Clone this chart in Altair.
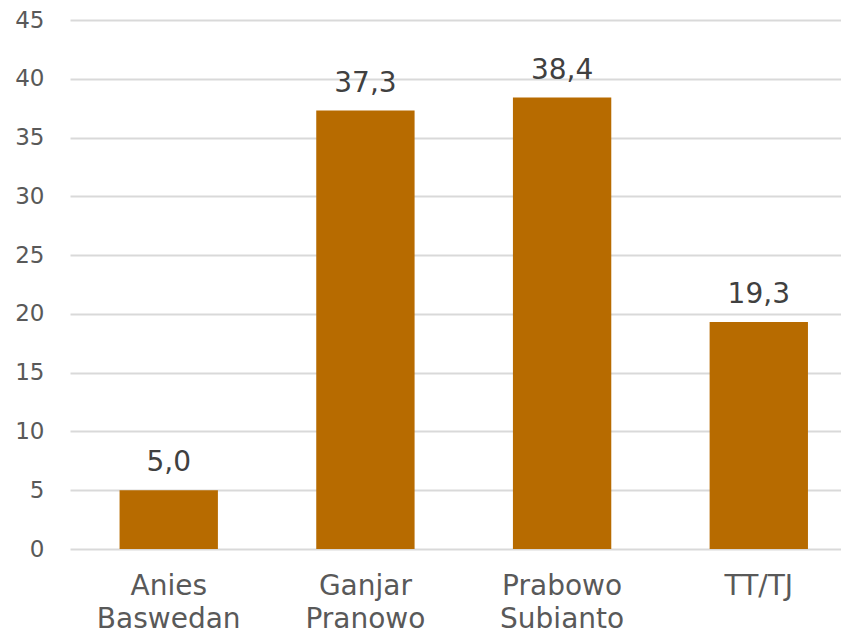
import altair as alt
import pandas as pd

candidates = ["Anies Baswedan", "Ganjar Pranowo", "Prabowo Subianto", "TT/TJ"]
values = [5.0, 37.3, 38.4, 19.3]
y_ticks = [0, 5, 10, 15, 20, 25, 30, 35, 40, 45]

df = pd.DataFrame({"candidate": candidates, "value": values})

FONT = "DejaVu Sans"
BAR = "#B76B00"

x = alt.X(
    "candidate:N",
    sort=candidates,
    scale=alt.Scale(paddingInner=0.5, paddingOuter=0.21, align=0.6),
    axis=alt.Axis(
        title=None,
        labelAngle=0,
        labelFont=FONT,
        labelFontSize=28,
        labelColor="#595959",
        labelLineHeight=33,
        labelPadding=23,
        labelExpr="split(datum.label, ' ')",
        ticks=False,
        domain=False,
        grid=False,
    ),
)

y = alt.Y(
    "value:Q",
    scale=alt.Scale(domain=[0, 45], nice=False),
    axis=alt.Axis(
        title=None,
        values=y_ticks,
        labelFont=FONT,
        labelFontSize=23,
        labelColor="#595959",
        labelPadding=26,
        ticks=False,
        domain=False,
        grid=True,
        gridColor="#D9D9D9",
        gridWidth=2,
    ),
)

bars = alt.Chart(df).mark_bar(color=BAR).encode(x=x, y=y)

labels = (
    alt.Chart(df)
    .transform_calculate(label="replace(format(datum.value, '.1f'), '.', ',')")
    .mark_text(
        font=FONT,
        fontSize=28,
        color="#404040",
        baseline="alphabetic",
        dy=-19,
    )
    .encode(x=alt.X("candidate:N", sort=candidates), y="value:Q", text="label:N")
)

chart = (
    alt.layer(bars, labels)
    .properties(
        width=771,
        height=529,
        padding={"left": 62, "top": 12, "right": 0, "bottom": 86},
        autosize=alt.AutoSizeParams(type="none"),
    )
    .configure_view(stroke=None)
)

chart.save("out.html", embed_options={"renderer": "svg", "actions": False})
